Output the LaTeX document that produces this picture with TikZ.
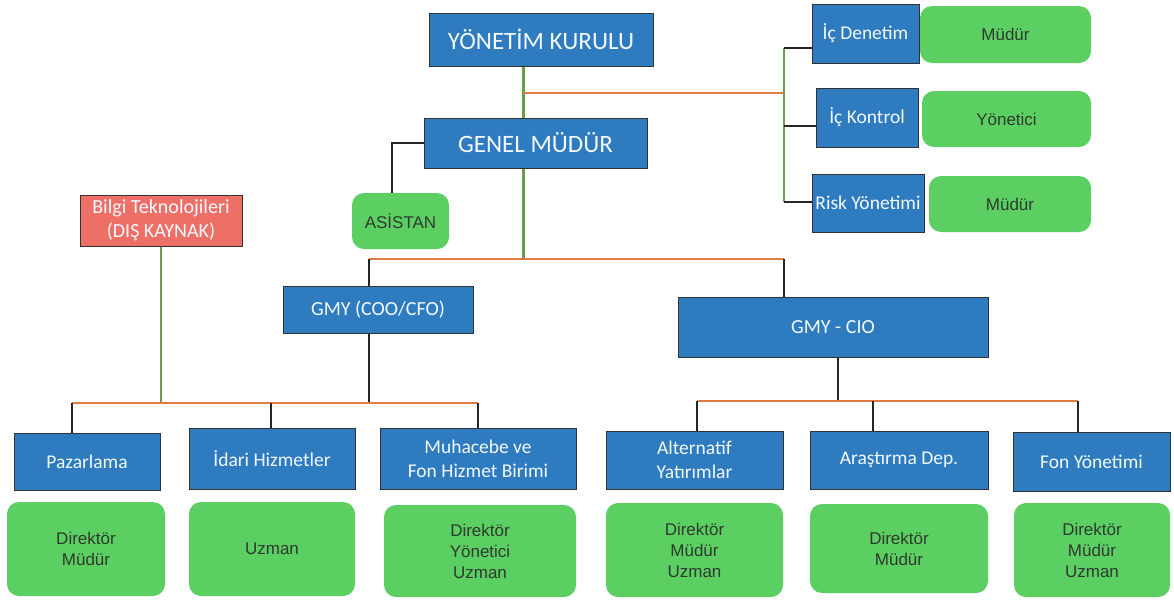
\documentclass[tikz,border=0pt]{standalone}
\usepackage{fontspec}
\setmainfont{Carlito}
\newfontfamily\arialf{Liberation Sans}
\definecolor{boxblue}{HTML}{2E7BBF}
\definecolor{boxgreen}{HTML}{5CCF62}
\definecolor{boxred}{HTML}{EE6F65}
\definecolor{lineor}{HTML}{E07A45}
\definecolor{linegr}{HTML}{6A9E4A}
\definecolor{txtgr}{HTML}{2F3A2F}
\definecolor{txtwh}{HTML}{F2F9FF}
\begin{document}
\begin{tikzpicture}[x=1pt,y=-1pt,
  bluebox/.style={draw=black!80, line width=1pt, fill=boxblue, text=txtwh, inner sep=0pt, align=center, font=\fontsize{19.5}{24}\selectfont},
  bigbox/.style={bluebox, font=\fontsize{25}{30}\selectfont},
  redbox/.style={bluebox, fill=boxred},
  greenbox/.style={fill=boxgreen, rounded corners=12pt, inner sep=0pt, align=center, text=txtgr, font=\arialf\fontsize{17}{21}\selectfont},
  orline/.style={draw=lineor, line width=2.6pt},
  grline/.style={draw=linegr, line width=2.2pt},
  blline/.style={draw=black!85, line width=1.6pt}]
\useasboundingbox[fill=white] (0,0) rectangle (1174,600);

% top
\node[bigbox, minimum width=224, minimum height=53] (yk) at (541,39.5) {YÖNETİM KURULU};
\node[bigbox, minimum width=223, minimum height=50] (gm) at (535.5,143) {GENEL MÜDÜR};

% right column
\node[bluebox, minimum width=107, minimum height=59] (icd) at (865.5,33.5) {İç Denetim};
\node[greenbox, minimum width=171, minimum height=57] (icdg) at (1005.5,34.5) {Müdür};
\node[bluebox, minimum width=102, minimum height=59] (ick) at (867,117.5) {İç Kontrol};
\node[greenbox, minimum width=169, minimum height=56] (ickg) at (1006.5,119) {Yönetici};
\node[bluebox, minimum width=112, minimum height=58] (risk) at (868,203) {Risk Yönetimi};
\node[greenbox, minimum width=162, minimum height=56] (riskg) at (1010,204) {Müdür};

% middle
\node[redbox, minimum width=162, minimum height=51, font=\fontsize{20}{24}\selectfont] (bilgi) at (161,220.5) {Bilgi Teknolojileri\\(DIŞ KAYNAK)};
\node[greenbox, minimum width=97, minimum height=56] (asis) at (400.5,221) {ASİSTAN};
\node[bluebox, minimum width=190, minimum height=47, font=\fontsize{20}{24}\selectfont] (coo) at (378,309.5) {GMY (COO/CFO)};
\node[bluebox, minimum width=310, minimum height=60, font=\fontsize{20}{24}\selectfont] (cio) at (833,327) {GMY - CIO};

% bottom departments
\node[bluebox, minimum width=146, minimum height=57] (paz) at (87,461.5) {Pazarlama};
\node[bluebox, minimum width=166, minimum height=61] (ida) at (272,458.5) {İdari Hizmetler};
\node[bluebox, minimum width=196, minimum height=61] (muh) at (478,458.5) {Muhacebe ve\\Fon Hizmet Birimi};
\node[bluebox, minimum width=177, minimum height=58] (alt) at (694.5,460) {Alternatif\\Yatırımlar};
\node[bluebox, minimum width=178, minimum height=58] (ara) at (899,460) {Araştırma Dep.};
\node[bluebox, minimum width=157, minimum height=59] (fon) at (1091.5,461.5) {Fon Yönetimi};

% bottom roles
\node[greenbox, minimum width=158, minimum height=94] (pazg) at (86,549) {Direktör\\Müdür};
\node[greenbox, minimum width=166, minimum height=94] (idag) at (272,549) {Uzman};
\node[greenbox, minimum width=192, minimum height=92] (muhg) at (480,551) {Direktör\\Yönetici\\Uzman};
\node[greenbox, minimum width=177, minimum height=94] (altg) at (694.5,550) {Direktör\\Müdür\\Uzman};
\node[greenbox, minimum width=178, minimum height=89] (arag) at (899,548.5) {Direktör\\Müdür};
\node[greenbox, minimum width=156, minimum height=94] (fong) at (1092,550) {Direktör\\Müdür\\Uzman};

% coordinates for bus lines
\coordinate (trunk) at (523.5,0);
\coordinate (ob0) at (524,93);
\coordinate (ob0e) at (784,93);
\coordinate (vt) at (784,48);
\coordinate (vk) at (784,126);
\coordinate (vb) at (784,202);
\coordinate (ac) at (392,0);
\coordinate (b1l) at (369,259);
\coordinate (b1r) at (784,259);
\coordinate (b2l) at (72,403);
\coordinate (b2m) at (271,403);
\coordinate (b2r) at (478,403);
\coordinate (b3l) at (697,401);
\coordinate (b3m) at (873,401);
\coordinate (b3r) at (1078,401);
\coordinate (cv) at (838,0);

% connectors
\draw[grline] (yk.south -| trunk) -- (gm.north -| trunk);
\draw[orline] (ob0) -- (ob0e);
\draw[grline] (vt) -- (vb);
\draw[blline] (vt) -- (vt -| icd.west);
\draw[blline] (vk) -- (vk -| ick.west);
\draw[blline] (vb) -- (vb -| risk.west);
\draw[blline] (gm.west) -| (ac |- asis.north);
\draw[grline] (gm.south -| trunk) -- (b1l -| trunk);
\draw[orline] (b1l) -- (b1r);
\draw[blline] (b1l) -- (b1l |- coo.north);
\draw[blline] (b1r) -- (b1r |- cio.north);
\draw[blline] (coo.south -| b1l) -- (b2l -| b1l);
\draw[grline] (bilgi.south) -- (bilgi.south |- b2l);
\draw[orline] (b2l) -- (b2r);
\draw[blline] (b2l) -- (b2l |- paz.north);
\draw[blline] (b2m) -- (b2m |- ida.north);
\draw[blline] (b2r) -- (b2r |- muh.north);
\draw[blline] (cio.south -| cv) -- (b3l -| cv);
\draw[orline] (b3l) -- (b3r);
\draw[blline] (b3l) -- (b3l |- alt.north);
\draw[blline] (b3m) -- (b3m |- ara.north);
\draw[blline] (b3r) -- (b3r |- fon.north);
\end{tikzpicture}
\end{document}
